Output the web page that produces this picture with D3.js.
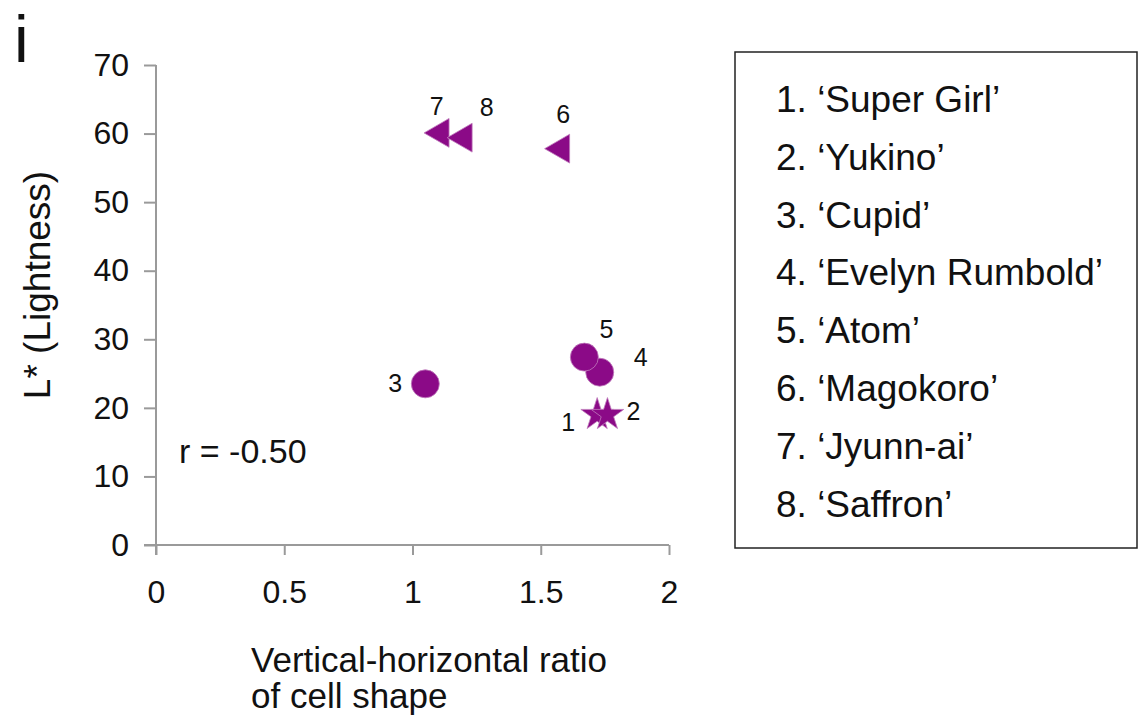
<!DOCTYPE html>
<html>
<head>
<meta charset="utf-8">
<script src="https://cdn.jsdelivr.net/npm/d3@7"></script>
<style>
  body { margin: 0; background: #fff; }
  svg { font-family: Arial, "Liberation Sans", sans-serif; }
</style>
</head>
<body>
<svg id="chart" width="1139" height="722"></svg>
<script>
// cultivar data
const IDS = [1, 2, 3, 4, 5, 6, 7, 8];
const NAMES = ["Super Girl", "Yukino", "Cupid", "Evelyn Rumbold", "Atom", "Magokoro", "Jyunn-ai", "Saffron"];
const RATIO = [1.72, 1.76, 1.05, 1.73, 1.67, 1.58, 1.11, 1.20];
const LIGHTNESS = [19.0, 19.0, 23.5, 25.2, 27.4, 57.8, 60.1, 59.4];
const SHAPES = ["star", "star", "circle", "circle", "circle", "triangle", "triangle", "triangle"];
// label offsets (px) relative to each point
const LABEL_DX = [-29, 26, -30, 41, 22, 2, -4, 23];
const LABEL_DY = [10, -1, 2, -13, -26, -32, -24, -28];
const X_TICKS = [0, 0.5, 1, 1.5, 2];
const Y_TICKS = [0, 10, 20, 30, 40, 50, 60, 70];

const purple = "#8b0a87";
const svg = d3.select("#chart");
const margin = { left: 156, top: 65, right: 669, bottom: 545 };

const xScale = d3.scaleLinear().domain([0, 2]).range([margin.left, margin.right]);
const yScale = d3.scaleLinear().domain([0, 70]).range([margin.bottom, margin.top]);

//AXES
const xAxis = d3.axisBottom(xScale).tickValues(X_TICKS).tickSize(10).tickPadding(25)
  .tickFormat(d3.format("~g"));
const yAxis = d3.axisLeft(yScale).tickValues(Y_TICKS).tickSize(12).tickPadding(15);

const gx = svg.append("g").attr("transform", `translate(0,${margin.bottom})`).call(xAxis);
const gy = svg.append("g").attr("transform", `translate(${margin.left},0)`).call(yAxis);

[gx, gy].forEach((g) => {
  g.select(".domain").remove();
  g.selectAll(".tick line").attr("stroke", "#9a9a9a").attr("stroke-width", 2);
  g.selectAll(".tick text").attr("fill", "#111").style("font-size", "32px");
});
// axis lines overshoot a little like the original
svg.append("line").attr("x1", margin.left - 12).attr("x2", margin.right)
  .attr("y1", margin.bottom).attr("y2", margin.bottom)
  .attr("stroke", "#9a9a9a").attr("stroke-width", 2);
svg.append("line").attr("x1", margin.left).attr("x2", margin.left)
  .attr("y1", margin.top).attr("y2", margin.bottom + 10)
  .attr("stroke", "#9a9a9a").attr("stroke-width", 2);

//MARKERS
const symbolFor = {
  circle: d3.symbol().type(d3.symbolCircle).size(Math.PI * 14 * 14),
  star: d3.symbol().type(d3.symbolStar).size(330),
  triangle: d3.symbol().type(d3.symbolTriangle).size(360),
};
const points = IDS.map((id, i) => ({
  id, x: RATIO[i], y: LIGHTNESS[i], shape: SHAPES[i], dx: LABEL_DX[i], dy: LABEL_DY[i],
}));

svg.append("g").selectAll("path").data(points).join("path")
  .attr("d", (d) => symbolFor[d.shape]())
  .attr("transform", (d) => {
    const rot = d.shape === "triangle" ? " rotate(-90)" : "";
    return `translate(${xScale(d.x)},${yScale(d.y)})${rot}`;
  })
  .attr("fill", purple)
  .attr("stroke", "#c07cbd")
  .attr("stroke-width", 0.8);

svg.append("g").selectAll("text").data(points).join("text")
  .attr("x", (d) => xScale(d.x) + d.dx)
  .attr("y", (d) => yScale(d.y) + d.dy)
  .attr("text-anchor", "middle")
  .attr("dominant-baseline", "middle")
  .style("font-size", "25px")
  .attr("fill", "#111")
  .text((d) => d.id);

//TEXT
svg.append("text").attr("x", 14).attr("y", 62).style("font-size", "66px").attr("fill", "#111").text("i");
svg.append("text").attr("transform", "translate(50,285) rotate(-90)")
  .attr("text-anchor", "middle").style("font-size", "37px").attr("fill", "#111")
  .text("L* (Lightness)");
svg.append("text").attr("x", 179).attr("y", 463).style("font-size", "34px").attr("fill", "#111")
  .text("r = -0.50");
const xt = svg.append("text").style("font-size", "35px").attr("fill", "#111");
xt.append("tspan").attr("x", 251).attr("y", 672).text("Vertical-horizontal ratio");
xt.append("tspan").attr("x", 251).attr("y", 708).text("of cell shape");

//LEGEND
const legend = svg.append("g");
legend.append("rect").attr("x", 735).attr("y", 52).attr("width", 402).attr("height", 496)
  .attr("fill", "none").attr("stroke", "#222").attr("stroke-width", 1.5);
legend.selectAll("text").data(NAMES).join("text")
  .attr("x", 776)
  .attr("y", (d, i) => 112 + i * 57.8)
  .style("font-size", "37px")
  .attr("fill", "#111")
  .text((d, i) => `${IDS[i]}. \u2018${d}\u2019`);
</script>
</body>
</html>
